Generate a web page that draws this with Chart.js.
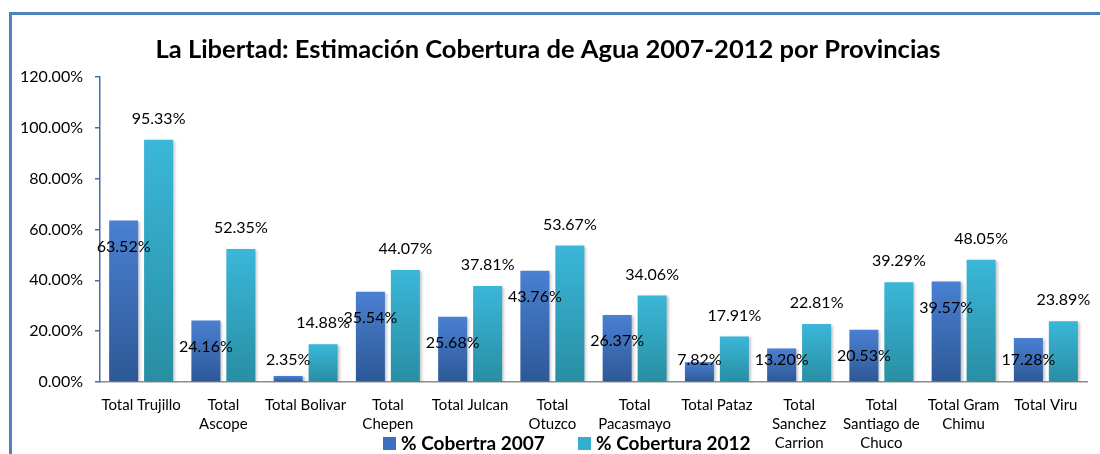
<!DOCTYPE html>
<html>
<head>
<meta charset="utf-8">
<script src="https://cdn.jsdelivr.net/npm/chart.js@4"></script>
<style>
  html, body { margin: 0; padding: 0; background: #fff; }
  #wrap { position: relative; width: 1100px; height: 454px; overflow: hidden; }
  #frame { position: absolute; left: 9px; top: 12px; width: 1200px; height: 600px;
    border-left: 3px solid #4f81bd; border-top: 3px solid #4f81bd; }
  canvas { position: absolute; left: 0; top: 0; }
</style>
</head>
<body>
<div id="wrap">
  <div id="frame"></div>
  <canvas id="coberturaChart" width="1100" height="454"></canvas>
</div>
<script>
  const titulo = "La Libertad: Estimación Cobertura de Agua 2007-2012 por Provincias";
  const provincias = [
    ["Total Trujillo"],
    ["Total", "Ascope"],
    ["Total Bolivar"],
    ["Total", "Chepen"],
    ["Total Julcan"],
    ["Total", "Otuzco"],
    ["Total", "Pacasmayo"],
    ["Total Pataz"],
    ["Total", "Sanchez", "Carrion"],
    ["Total", "Santiago de", "Chuco"],
    ["Total Gram", "Chimu"],
    ["Total Viru"],
  ];
  const cobertura2007 = [63.52, 24.16, 2.35, 35.54, 25.68, 43.76, 26.37, 7.82, 13.20, 20.53, 39.57, 17.28];
  const cobertura2012 = [95.33, 52.35, 14.88, 44.07, 37.81, 53.67, 34.06, 17.91, 22.81, 39.29, 48.05, 23.89];
  const serieNombres = ["% Cobertra 2007", "% Cobertura 2012"];
  const yMax = 120;
  const yStep = 20;

  const FONT = "Lato, 'Open Sans', sans-serif";

  // gradient per bar, lighter on top
  function barGradient(top, bottom) {
    return (context) => {
      const chart = context.chart;
      const y = chart.scales && chart.scales.y;
      if (!chart.chartArea || !y || context.parsed === undefined) return top;
      const py = y.getPixelForValue(context.parsed.y);
      const base = y.getPixelForValue(0);
      if (!isFinite(py) || !isFinite(base) || base - py < 1) return top;
      const g = chart.ctx.createLinearGradient(0, py, 0, base);
      g.addColorStop(0, top);
      g.addColorStop(1, bottom);
      return g;
    };
  }

  const sombra = {
    id: "sombra",
    beforeDatasetsDraw(chart) {
      const c = chart.ctx;
      c.save();
      c.shadowColor = "rgba(0,0,0,0.28)";
      c.shadowBlur = 3;
      c.shadowOffsetX = 2;
      c.shadowOffsetY = 1;
    },
    afterDatasetsDraw(chart) {
      chart.ctx.restore();
    },
  };

  const etiquetas = {
    id: "etiquetas",
    afterDraw(chart) {
      const c = chart.ctx;
      const base = chart.scales.y.getPixelForValue(0);
      c.save();
      c.font = "16px " + FONT;
      c.fillStyle = "#000";
      c.textAlign = "center";
      c.textBaseline = "middle";
      // 2007: inside end, but never lower than near the axis
      chart.getDatasetMeta(0).data.forEach((bar, i) => {
        const y = Math.min(bar.y + 26, base - 22);
        c.fillText(cobertura2007[i].toFixed(2) + "%", bar.x, y);
      });
      // 2012: above the bar
      chart.getDatasetMeta(1).data.forEach((bar, i) => {
        c.fillText(cobertura2012[i].toFixed(2) + "%", bar.x, bar.y - 21);
      });

      // title
      c.font = "bold 25.5px " + FONT;
      c.fillText(titulo, 548, 50);

      // legend
      const colores = ["#3d6fbf", "#33aecf"];
      const xs = [383, 578];
      c.font = "bold 19px " + FONT;
      c.textAlign = "left";
      serieNombres.forEach((n, i) => {
        c.fillStyle = colores[i];
        c.fillRect(xs[i], 437, 13, 13);
        c.fillStyle = "#000";
        c.fillText(n, xs[i] + 18, 444);
      });
      c.restore();
    },
  };

  const ctx = document.getElementById("coberturaChart").getContext("2d");
  const coberturaChart = new Chart(ctx, {
    type: "bar",
    data: {
      labels: provincias,
      datasets: [
        {
          label: serieNombres[0],
          data: cobertura2007,
          backgroundColor: barGradient("#4a80d2", "#2d5896"),
          borderWidth: 0,
        },
        {
          label: serieNombres[1],
          data: cobertura2012,
          backgroundColor: barGradient("#3bb7d9", "#288ea3"),
          borderWidth: 0,
        },
      ],
    },
    options: {
      responsive: false,
      animation: false,
      devicePixelRatio: 1,
      categoryPercentage: 0.85,
      barPercentage: 0.83,
      layout: { padding: { top: 77, right: 13, left: 0, bottom: 0 } },
      plugins: {
        legend: { display: false },
        title: { display: false },
        tooltip: { enabled: false },
      },
      scales: {
        x: {
          afterFit: (s) => { s.height = 72; },
          grid: { display: false },
          border: { color: "#8c8c8c", width: 1.5 },
          ticks: {
            color: "#000",
            padding: 6,
            maxRotation: 0,
            autoSkip: false,
            font: { family: FONT, size: 15, lineHeight: 1.27 },
          },
        },
        y: {
          min: 0,
          max: yMax,
          afterFit: (s) => { s.width = 100; },
          grid: { drawOnChartArea: false, drawTicks: true, tickLength: 5, color: "#4a6f9f", lineWidth: 1.5 },
          border: { color: "#4a6f9f", width: 1.5 },
          ticks: {
            stepSize: yStep,
            color: "#000",
            padding: 12,
            font: { family: FONT, size: 16 },
            callback: (v) => v.toFixed(2) + "%",
          },
        },
      },
    },
    plugins: [sombra, etiquetas],
  });
</script>
</body>
</html>
